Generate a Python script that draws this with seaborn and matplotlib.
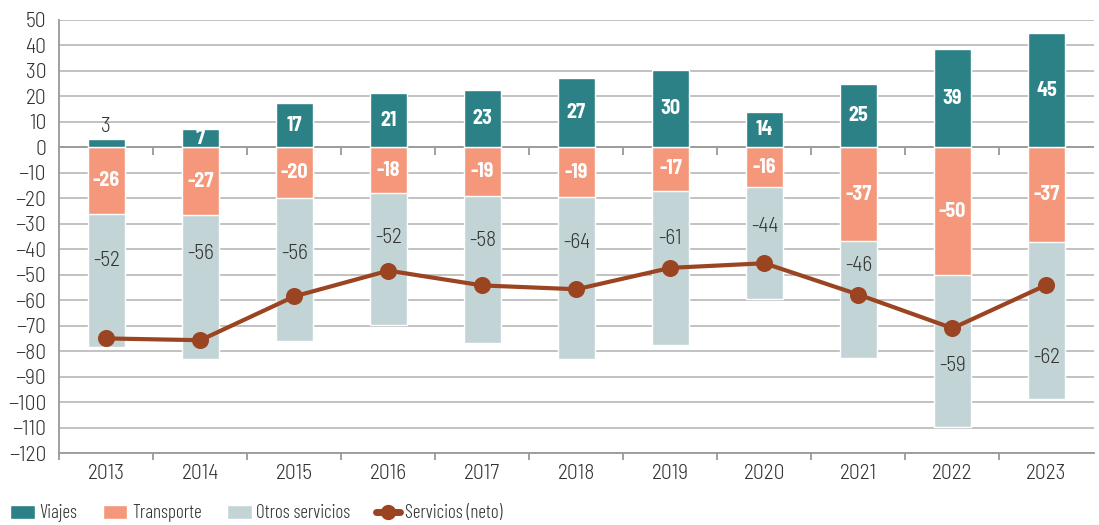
import numpy as np
import pandas as pd
import matplotlib
matplotlib.use("Agg")
import matplotlib.pyplot as plt
import seaborn as sns
from matplotlib.patches import Patch
from matplotlib.lines import Line2D

# --- datos ---
years = ["2013", "2014", "2015", "2016", "2017", "2018", "2019", "2020", "2021", "2022", "2023"]
viajes = [3.4, 7.3, 17.4, 21.3, 22.6, 27.3, 30.3, 14.0, 24.8, 38.7, 44.8]
transporte = [-26.0, -26.6, -19.9, -17.9, -19.0, -19.4, -17.0, -15.6, -36.8, -50.3, -37.0]
otros = [-52.4, -56.4, -56.0, -51.8, -57.8, -63.6, -60.6, -43.9, -45.8, -59.4, -61.8]
# posicion vertical de las etiquetas de "Otros servicios"
otros_label_y = [-44.3, -41.6, -41.6, -35.2, -36.4, -37.5, -35.6, -31.2, -46.2, -85.5, -82.3]

df = pd.DataFrame({"year": years, "viajes": viajes, "transporte": transporte, "otros": otros})
df["neg_total"] = df["transporte"] + df["otros"]
df["neto"] = df["viajes"] + df["transporte"] + df["otros"]

C_VIAJES = "#2b8186"
C_TRANSP = "#f5977a"
C_OTROS = "#c2d4d6"
C_NETO = "#9b4421"
C_TEXT = "#333333"
C_GRID = "#bdbdbd"
C_AXIS = "#999999"

F_LABEL = ["Barlow Semi Condensed", "DejaVu Sans"]
F_LEG = ["Barlow Condensed", "DejaVu Sans"]

sns.set_style("white")
plt.rcParams["font.family"] = F_LABEL
plt.rcParams["font.weight"] = 300
plt.rcParams["font.size"] = 15

fig, ax = plt.subplots(figsize=(10.99, 5.25), dpi=100)
fig.subplots_adjust(left=0.054, right=0.995, top=0.962, bottom=0.137)

# barras: otros (total negativo) detras, transporte encima, viajes positivo
sns.barplot(x="year", y="neg_total", data=df, color=C_OTROS, width=0.4,
            saturation=1, ax=ax, zorder=2)
sns.barplot(x="year", y="transporte", data=df, color=C_TRANSP, width=0.4,
            saturation=1, ax=ax, zorder=3)
sns.barplot(x="year", y="viajes", data=df, color=C_VIAJES, width=0.4,
            saturation=1, ax=ax, zorder=3)

# linea neta
sns.pointplot(x="year", y="neto", data=df, color=C_NETO, markers="o",
              markersize=10, linewidth=3, ax=ax, zorder=5)

# etiquetas
for i, row in df.iterrows():
    v = row["viajes"]
    if v < 5:
        ax.text(i, v + 1.2, f"{round(v)}", ha="center", va="bottom",
                color=C_TEXT, fontsize=15.4, fontweight=300, zorder=6)
    else:
        ax.text(i, v / 2, f"{round(v)}", ha="center", va="center",
                color="white", fontsize=14.5, fontweight=700, zorder=6)
    t = row["transporte"]
    ax.text(i, t / 2, f"{round(t)}", ha="center", va="center",
            color="white", fontsize=14.5, fontweight=700, zorder=6)
    ax.text(i, otros_label_y[i], f"{round(row['otros'])}", ha="center", va="center",
            color=C_TEXT, fontsize=15.4, fontweight=300, zorder=6)

# ejes
ax.set_ylim(-120, 50)
ax.set_yticks(np.arange(-120, 51, 10))
ax.set_xlim(-0.5, len(years) - 0.5)
ax.set_xlabel("")
ax.set_ylabel("")
ax.yaxis.grid(True, color=C_GRID, linewidth=1.3, zorder=0)
ax.set_axisbelow(True)
ax.axhline(0, color=C_AXIS, linewidth=1.3, zorder=1)

for s in ["top", "right"]:
    ax.spines[s].set_visible(False)
for s in ["left", "bottom"]:
    ax.spines[s].set_color(C_AXIS)
    ax.spines[s].set_linewidth(1.3)

ax.tick_params(axis="y", length=5.5, color=C_AXIS, labelcolor=C_TEXT, labelsize=15.5, pad=4)
ax.tick_params(axis="x", length=0, labelcolor=C_TEXT, labelsize=15.5, pad=8)

# marcas entre categorias en el eje inferior y en la linea cero
ax.vlines(np.arange(-0.5, len(years) - 1, 1.0), -122.8, -120, color=C_AXIS,
          linewidth=1.3, clip_on=False)
ax.vlines(np.arange(0.5, len(years) - 1, 1.0), -3, 0, color=C_AXIS, linewidth=1.3)

# leyenda
handles = [
    Patch(facecolor=C_VIAJES, label="Viajes"),
    Patch(facecolor=C_TRANSP, label="Transporte"),
    Patch(facecolor=C_OTROS, label="Otros servicios"),
    Line2D([0], [0], color=C_NETO, linewidth=5, marker="o", markersize=10,
           label="Servicios (neto)"),
]
leg = fig.legend(handles=handles, loc="center left", bbox_to_anchor=(10 / 1099, 0.022),
                 ncol=4, frameon=False, prop={"family": F_LEG, "size": 13.8, "weight": 300},
                 handlelength=1.3, handleheight=0.78, columnspacing=1.3,
                 handletextpad=0.25, borderpad=0, borderaxespad=0)
for txt in leg.get_texts():
    txt.set_color(C_TEXT)

fig.savefig("out.png", dpi=100)
